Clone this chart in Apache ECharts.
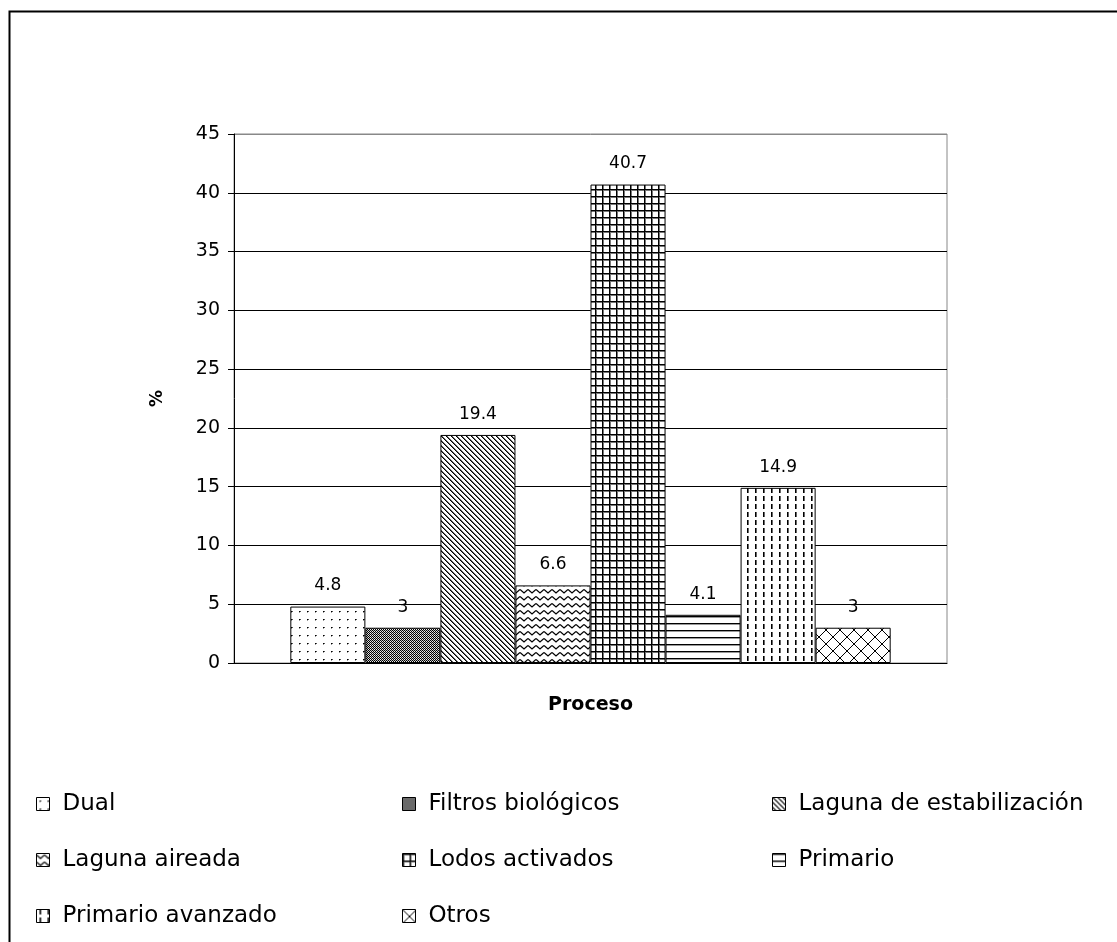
<!DOCTYPE html>
<html>
<head>
<meta charset="utf-8">
<script src="https://cdn.jsdelivr.net/npm/echarts@6/dist/echarts.min.js"></script>
<style>html,body{margin:0;padding:0;background:#fff;}#chart{width:1117px;height:942px;}</style>
</head>
<body>
<div id="chart"></div>
<script>
const categories = ['Proceso'];
const seriesNames = ['Dual', 'Filtros biológicos', 'Laguna de estabilización', 'Laguna aireada', 'Lodos activados', 'Primario', 'Primario avanzado', 'Otros'];
const seriesValues = [4.8, 3, 19.4, 6.6, 40.7, 4.1, 14.9, 3];
const yMin = 0, yMax = 45, yInterval = 5;
const legendCol1 = ['Dual', 'Laguna aireada', 'Primario avanzado'];
const legendCol2 = ['Filtros biológicos', 'Lodos activados', 'Otros'];
const legendCol3 = ['Laguna de estabilización', 'Primario'];

function pat(w, h, draw) {
  const c = document.createElement('canvas');
  c.width = w; c.height = h;
  const x = c.getContext('2d');
  x.fillStyle = '#fff'; x.fillRect(0, 0, w, h);
  x.fillStyle = '#000'; x.strokeStyle = '#000';
  draw(x, w, h);
  return { image: c, repeat: 'repeat' };
}
const patterns = [
  pat(8, 8, (x) => { x.fillRect(3, 3, 1, 1); x.fillStyle = '#555'; x.fillRect(4, 3, 1, 1); x.fillStyle = '#999'; x.fillRect(3, 4, 1, 1); }),
  pat(2, 2, (x) => { x.fillRect(0, 0, 1, 1); x.fillRect(1, 1, 1, 1); x.fillStyle = '#bbb'; x.fillRect(1, 0, 1, 1); x.fillStyle = '#eee'; x.fillRect(0, 1, 1, 1); }),
  pat(5, 5, (x) => { for (let i = 0; i < 5; i++) { x.fillRect(i, i, 1, 1); x.fillStyle = '#666'; x.fillRect((i + 1) % 5, i, 1, 1); x.fillStyle = '#000'; } }),
  pat(8, 7, (x) => { x.lineWidth = 1.3; x.beginPath(); x.moveTo(0, 1.5); x.lineTo(4, 5); x.lineTo(8, 1.5); x.stroke(); }),
  pat(7, 7, (x) => { x.fillRect(0, 0, 7, 1); x.fillRect(0, 0, 1, 7); x.fillStyle = '#777'; x.fillRect(1, 1, 6, 1); x.fillRect(1, 1, 1, 6); }),
  pat(8, 7, (x) => { x.fillRect(0, 0, 8, 1); x.fillStyle = '#999'; x.fillRect(0, 1, 8, 1); }),
  pat(8, 8, (x) => { x.fillRect(3, 0, 1, 5); x.fillStyle = '#666'; x.fillRect(4, 0, 1, 5); }),
  pat(14, 14, (x) => { x.lineWidth = 1; x.beginPath(); for (const d of [-14, 0, 14]) { x.moveTo(d, 0); x.lineTo(d + 14, 14); x.moveTo(d + 14, 0); x.lineTo(d, 14); } x.stroke(); })
];

const FONT = 'DejaVu Sans';
const series = seriesNames.map((n, i) => ({
  name: n,
  type: 'bar',
  data: [seriesValues[i]],
  barGap: '0%',
  barCategoryGap: '15.8%',
  itemStyle: { color: patterns[i], borderColor: '#000', borderWidth: 1 },
  label: { show: true, position: 'top', distance: 12, color: '#000', fontFamily: FONT, fontSize: 17 }
}));

function legend(data, left) {
  return {
    data: data, orient: 'vertical', left: left, top: 786, itemGap: 30,
    itemWidth: 13, itemHeight: 13, icon: 'rect',
    itemStyle: { borderColor: '#000', borderWidth: 1 },
    textStyle: { fontFamily: FONT, fontSize: 23, color: '#000', lineHeight: 26, padding: [0, 0, 0, 8] },
    selectedMode: false
  };
}

const chart = echarts.init(document.getElementById('chart'));
chart.setOption({
  animation: false,
  backgroundColor: '#fff',
  grid: { left: 234, top: 134, right: 170, bottom: 279, show: true, borderColor: '#888', borderWidth: 1, backgroundColor: 'transparent' },
  graphic: [{ type: 'rect', left: 7, top: 9, shape: { width: 1200, height: 1000 }, style: { fill: 'none', stroke: '#000', lineWidth: 2 }, silent: true }],
  xAxis: {
    type: 'category', data: categories,
    axisLine: { lineStyle: { color: '#000' } }, axisTick: { show: false }, axisLabel: { show: false },
    name: 'Proceso', nameLocation: 'middle', nameGap: 33,
    nameTextStyle: { fontFamily: FONT, fontSize: 19, fontWeight: 'bold', color: '#000' }
  },
  yAxis: {
    type: 'value', min: yMin, max: yMax, interval: yInterval,
    axisLine: { show: true, lineStyle: { color: '#000' } },
    axisTick: { show: true, length: 6, lineStyle: { color: '#000' } },
    axisLabel: { fontFamily: FONT, fontSize: 19, color: '#000', margin: 14 },
    splitLine: { lineStyle: { color: ['#000', '#000', '#000', '#000', '#000', '#000', '#000', '#000', '#000', '#888'], width: 1 } },
    name: '%', nameLocation: 'middle', nameGap: 68,
    nameTextStyle: { fontFamily: FONT, fontSize: 17, fontWeight: 'bold', color: '#000' }
  },
  legend: [legend(legendCol1, 31), legend(legendCol2, 397), legend(legendCol3, 767)],
  series: series
});
</script>
</body>
</html>
